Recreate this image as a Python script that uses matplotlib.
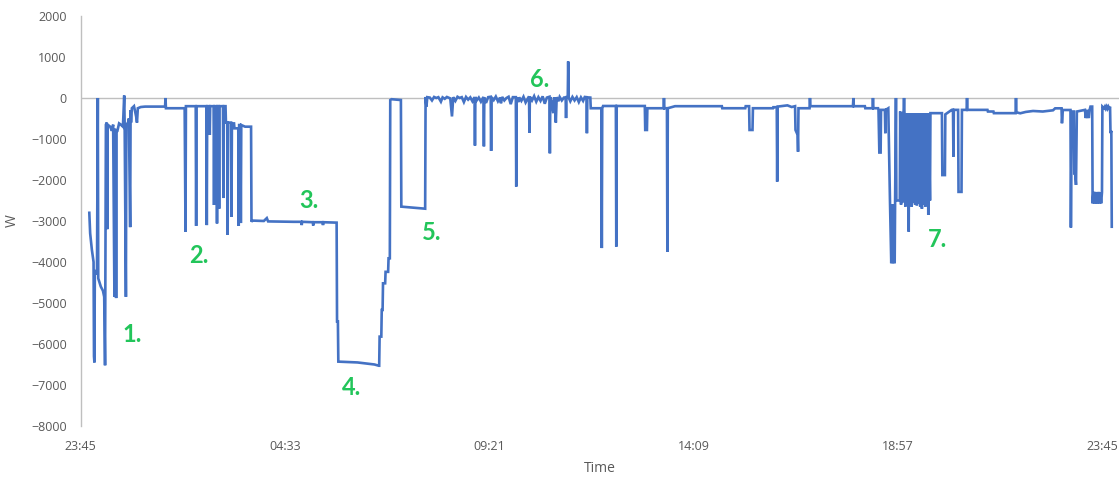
import matplotlib
matplotlib.use("Agg")
import matplotlib.pyplot as plt

# Elapsed hours since 23:45 and measured power (W)
hours = [
    0.20, 0.22, 0.26, 0.30, 0.31, 0.32, 0.33, 0.38, 0.40, 0.41, 0.47, 0.52, 0.55, 0.57,
    0.59, 0.61, 0.62, 0.63, 0.69, 0.73, 0.76, 0.79, 0.80, 0.82, 0.83, 0.84, 0.86, 0.90,
    0.94, 0.99, 1.02, 1.03, 1.06, 1.07, 1.11, 1.13, 1.16, 1.17, 1.18, 1.20, 1.25, 1.27,
    1.30, 1.32, 1.34, 1.41, 1.51, 1.98, 1.99, 2.00, 2.44,
    2.46, 2.47, 2.70, 2.71, 2.72, 2.95, 2.96, 2.97, 3.02, 3.03, 3.04, 3.12, 3.13, 3.14,
    3.19, 3.20, 3.21, 3.24, 3.25, 3.26, 3.34, 3.35, 3.36, 3.40, 3.41, 3.44, 3.45, 3.46,
    3.53, 3.54, 3.55, 3.60, 3.61, 3.70, 3.71, 3.72, 3.75, 3.76, 3.77, 3.86, 4.00, 4.01,
    4.03, 4.30, 4.37, 4.40, 5.00, 5.18, 5.19, 5.20, 5.45, 5.46, 5.47, 5.68, 5.69, 5.70,
    6.00, 6.01, 6.02, 6.04, 6.05, 6.50, 6.90, 7.00,
    7.01, 7.02, 7.06, 7.07, 7.09, 7.10, 7.15, 7.16, 7.22, 7.23, 7.26, 7.27, 7.30, 7.52,
    7.53, 8.08, 8.09, 8.10, 8.12, 8.14,
    8.20, 8.25, 8.30, 8.35, 8.40, 8.46, 8.50, 8.55, 8.60, 8.68, 8.72, 8.75, 8.80, 8.85,
    8.90, 8.95, 9.00, 9.05, 9.10, 9.15, 9.20, 9.25, 9.26, 9.27, 9.30, 9.35, 9.40, 9.46,
    9.47, 9.48, 9.52, 9.57, 9.63, 9.64, 9.65, 9.70, 9.75, 9.80, 9.85, 9.87, 9.90, 9.95,
    10.00, 10.05, 10.10, 10.15, 10.22, 10.23, 10.24, 10.28, 10.30, 10.35, 10.40, 10.45,
    10.53, 10.54, 10.55, 10.60, 10.65, 10.70, 10.75, 10.80, 10.85, 10.90, 10.95, 11.01,
    11.02, 11.03, 11.06, 11.10, 11.12, 11.14, 11.16, 11.18, 11.22, 11.25, 11.30, 11.35,
    11.39, 11.40, 11.41, 11.44, 11.45, 11.46, 11.50, 11.55, 11.60, 11.65, 11.70, 11.75,
    11.80, 11.84, 11.88, 11.89, 11.90, 11.97,
    11.98, 12.23, 12.24, 12.25, 12.27, 12.57, 12.58, 12.59, 13.25, 13.26, 13.30, 13.31,
    13.69, 13.70, 13.71, 13.77, 13.78, 13.79, 13.96, 15.06, 15.07, 15.61, 15.62, 15.70,
    15.71, 15.78, 15.79, 16.26, 16.27, 16.35, 16.36, 16.37, 16.60, 16.70, 16.78, 16.79,
    16.84, 16.85, 16.86, 17.12, 17.13, 17.14, 18.14, 18.15, 18.16, 18.42, 18.43, 18.60,
    18.61, 18.62, 18.73, 18.74, 18.76, 18.79, 18.80, 18.89, 18.90, 18.91, 18.97,
    19.01, 19.04, 19.06, 19.08, 19.10, 19.12, 19.13, 19.15, 19.16, 19.24, 19.25,
    19.27, 19.28, 19.30, 19.31, 19.33, 19.34, 19.35, 19.37, 19.38, 19.41, 19.42, 19.45,
    19.46, 19.48, 19.49, 19.52, 19.53, 19.56, 19.57, 19.60, 19.61, 19.64, 19.65, 19.68,
    19.69, 19.72, 19.73, 19.76, 19.77, 19.80, 19.81, 19.84, 19.85, 19.88, 19.89, 19.91,
    19.92, 19.95, 19.96, 20.00,
    20.23, 20.24, 20.30, 20.31, 20.46, 20.49, 20.50, 20.51, 20.61, 20.62, 20.69, 20.70,
    20.81, 20.82, 20.83, 21.30, 21.31, 21.44, 21.45, 21.96, 21.97, 21.98,
    22.07, 22.20, 22.37, 22.60, 22.84, 22.89, 23.04, 23.05, 23.07, 23.25, 23.26, 23.28,
    23.33, 23.34, 23.36, 23.38, 23.40, 23.59, 23.61, 23.62, 23.64, 23.66, 23.68, 23.70,
    23.72, 23.76, 23.77, 23.79, 23.81, 23.83, 23.85, 23.87, 23.89, 23.91, 23.93, 23.95,
    23.97, 23.99, 24.00, 24.04, 24.06, 24.08, 24.10, 24.12, 24.14, 24.16, 24.18, 24.19,
    24.21, 24.22,
]

power_w = [
    -2800, -3300, -3700, -4000, -6300, -6450, -4200, -4300, 0, -4400, -4600, -4700, -4850, -6520,
    -650, -600, -3200, -650, -700, -800, -650, -4850, -750, -850, -4880, -800, -800, -620,
    -650, -700, 60, -600, -4850, -650, -600, -500, -3150, -300, -600, -250, -200, -300,
    -450, -600, -250, -220, -210, -210, 0, -250, -250,
    -3260, -200, -200, -3120, -200, -200, -3100, -200, -200, -900, -200, -200, -2610, -200,
    -200, -3060, -200, -200, -2700, -200, -200, -2440, -200, -200, -600, -600, -3340, -600,
    -600, -2900, -620, -620, -740, -740, -3120, -660, -660, -3050, -660, -700, -700, -3020,
    -2990, -3000, -2930, -3010, -3020, -3020, -3100, -3020, -3030, -3110, -3030, -3030, -3100, -3030,
    -3040, -3040, -5450, -5450, -6430, -6450, -6500, -6530,
    -6530, -5820, -5820, -5170, -5170, -4520, -4520, -4240, -4240, -3910, -3910, -50, -30, -50,
    -2650, -2700, -2700, 25, -210, 20,
    10, -60, 25, 0, 20, -90, 15, -20, 25, -10, -450, 20, -70, 30,
    0, 20, -100, 25, -40, 15, -80, 20, -1160, 25, -60, 10, -90, 25,
    -1180, 10, -120, 20, 30, -1290, 20, -50, 35, -80, 10, -130, 25, -60,
    0, 30, -150, 20, 20, -2160, 10, -100, 15, -70, 30, -110,
    40, -850, 30, -60, 45, -90, 20, -70, 40, -140, 10, 30,
    -1350, 20, -90, -370, 15, -120, -600, 20, -80, 25, -60, 10,
    15, -490, 20, 20, 890, 15, -80, 25, -60, 20, -100, 15,
    -70, 25, 20, -860, 15, 10,
    -250, -250, -3660, -250, -195, -195, -3625, -195, -195, -780, -780, -250,
    -250, 0, -250, -250, -3750, -250, -200, -200, -250, -250, -200, -200,
    -780, -780, -250, -250, -225, -225, -2040, -210, -180, -220, -200, -780,
    -900, -1310, -250, -250, 0, -200, -200, 0, -200, -200, -250, -250,
    0, -250, -250, -290, -1330, -1330, -290, -290, -860, -290, -250,
    -2530, -4030, -2600, -4030, -2600, -4030, -2550, 0, -2500, -2500, -330,
    -2600, -370, -2550, -370, -330, 0, -370, -2650, -370, -2600, -370, -3260,
    -370, -2600, -370, -2650, -370, -2550, -370, -2600, -370, -2620, -370, -2580,
    -370, -2650, -370, -2700, -370, -2600, -370, -2650, -370, -1550, -370, -2850,
    -370, -2500, -370, -370,
    -370, -1880, -1880, -400, -290, -290, -1430, -290, -290, -2290, -2290, -290,
    -290, 0, -290, -290, -330, -330, -370, -370, 0, -350,
    -373, -340, -317, -330, -300, -252, -252, -617, -293, -293, -3160, -330,
    -330, -1840, -1840, -2120, -330, -290, -490, -290, -490, -290, -490, -290,
    -210, -210, -2570, -2290, -2570, -2290, -2570, -2300, -2570, -2290, -2570, -2300,
    -2570, -2300, -210, -250, -210, -260, -210, -260, -210, -250, -210, -860,
    -800, -3140,
]

# Axis ticks (hours since 23:45) and their clock labels
tick_hours = [0, 4.8, 9.6, 14.4, 19.2, 24.0]
tick_labels = ["23:45", "04:33", "09:21", "14:09", "18:57", "23:45"]
y_ticks = list(range(-8000, 2001, 1000))

# Numbered callouts: (label, hour, watts)
callout_text = ["1.", "2.", "3.", "4.", "5.", "6.", "7."]
callout_hours = [1.20, 2.78, 5.36, 6.35, 8.25, 10.78, 20.12]
callout_watts = [-5760, -3830, -2490, -7050, -3270, 460, -3440]

LINE_BLUE = "#4472C4"
TEXT_GREY = "#595959"
AXIS_GREY = "#BFBFBF"
CALLOUT_GREEN = "#22C55A"

plt.rcParams["font.family"] = ["Open Sans", "DejaVu Sans"]

fig = plt.figure(figsize=(11.19, 4.80), dpi=100)
ax = fig.add_axes([0.0722, 0.1125, 1.0 - 0.0722, 0.9667 - 0.1125])

ax.plot(hours, power_w, color=LINE_BLUE, lw=1.9, solid_joinstyle="miter", zorder=3)
ax.axhline(0, color=AXIS_GREY, lw=1.0, zorder=1)

ax.set_xlim(0, 24.39)
ax.set_ylim(-8000, 2000)
ax.set_xticks(tick_hours)
ax.set_xticklabels(tick_labels)
ax.set_yticks(y_ticks)
ax.tick_params(axis="both", length=0, colors=TEXT_GREY, labelsize=9)
ax.tick_params(axis="y", pad=10)
ax.tick_params(axis="x", pad=10)

for side in ("top", "right", "bottom"):
    ax.spines[side].set_visible(False)
ax.spines["left"].set_color(AXIS_GREY)
ax.spines["left"].set_linewidth(1.0)

ax.set_xlabel("Time", color=TEXT_GREY, fontsize=10, labelpad=6)
ax.set_ylabel("W", color=TEXT_GREY, fontsize=10, labelpad=8)

for txt, h, w in zip(callout_text, callout_hours, callout_watts):
    ax.text(h, w, txt, color=CALLOUT_GREEN, fontsize=17, fontweight="bold",
            ha="center", va="center", family=["Lato", "DejaVu Sans"], zorder=4)

fig.savefig("out.png", dpi=100, facecolor="white")
